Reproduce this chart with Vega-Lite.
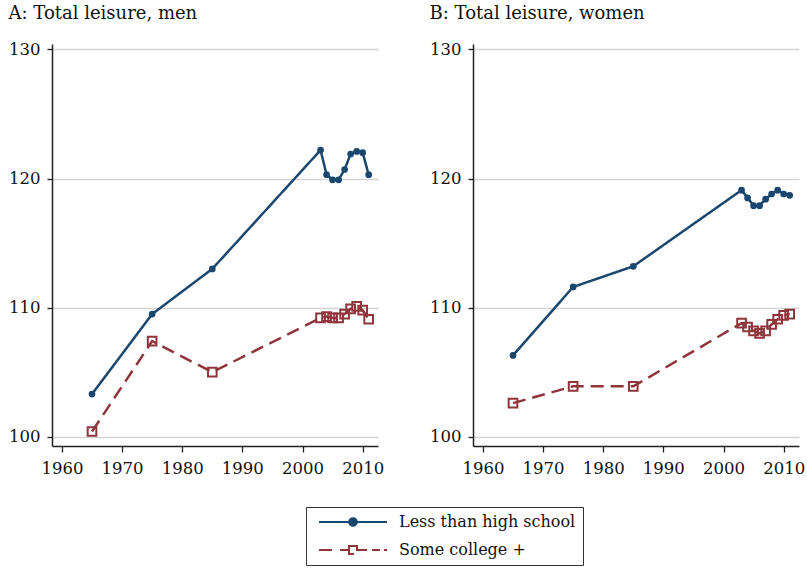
{
  "$schema": "https://vega.github.io/schema/vega-lite/v6.json",
  "padding": {"left": 8, "top": 5, "right": 0, "bottom": 0},
  "background": "white",
  "datasets": {
    "leisure": [
      {"panel": "men", "group": "Less than high school", "year": 1965, "value": 103.3},
      {"panel": "men", "group": "Less than high school", "year": 1975, "value": 109.5},
      {"panel": "men", "group": "Less than high school", "year": 1985, "value": 113.0},
      {"panel": "men", "group": "Less than high school", "year": 2003, "value": 122.2},
      {"panel": "men", "group": "Less than high school", "year": 2004, "value": 120.3},
      {"panel": "men", "group": "Less than high school", "year": 2005, "value": 119.9},
      {"panel": "men", "group": "Less than high school", "year": 2006, "value": 119.9},
      {"panel": "men", "group": "Less than high school", "year": 2007, "value": 120.7},
      {"panel": "men", "group": "Less than high school", "year": 2008, "value": 121.9},
      {"panel": "men", "group": "Less than high school", "year": 2009, "value": 122.1},
      {"panel": "men", "group": "Less than high school", "year": 2010, "value": 122.0},
      {"panel": "men", "group": "Less than high school", "year": 2011, "value": 120.3},
      {"panel": "men", "group": "Some college +", "year": 1965, "value": 100.4},
      {"panel": "men", "group": "Some college +", "year": 1975, "value": 107.4},
      {"panel": "men", "group": "Some college +", "year": 1985, "value": 105.0},
      {"panel": "men", "group": "Some college +", "year": 2003, "value": 109.2},
      {"panel": "men", "group": "Some college +", "year": 2004, "value": 109.3},
      {"panel": "men", "group": "Some college +", "year": 2005, "value": 109.2},
      {"panel": "men", "group": "Some college +", "year": 2006, "value": 109.2},
      {"panel": "men", "group": "Some college +", "year": 2007, "value": 109.5},
      {"panel": "men", "group": "Some college +", "year": 2008, "value": 109.9},
      {"panel": "men", "group": "Some college +", "year": 2009, "value": 110.1},
      {"panel": "men", "group": "Some college +", "year": 2010, "value": 109.8},
      {"panel": "men", "group": "Some college +", "year": 2011, "value": 109.1},
      {"panel": "women", "group": "Less than high school", "year": 1965, "value": 106.3},
      {"panel": "women", "group": "Less than high school", "year": 1975, "value": 111.6},
      {"panel": "women", "group": "Less than high school", "year": 1985, "value": 113.2},
      {"panel": "women", "group": "Less than high school", "year": 2003, "value": 119.1},
      {"panel": "women", "group": "Less than high school", "year": 2004, "value": 118.5},
      {"panel": "women", "group": "Less than high school", "year": 2005, "value": 117.9},
      {"panel": "women", "group": "Less than high school", "year": 2006, "value": 117.9},
      {"panel": "women", "group": "Less than high school", "year": 2007, "value": 118.4},
      {"panel": "women", "group": "Less than high school", "year": 2008, "value": 118.8},
      {"panel": "women", "group": "Less than high school", "year": 2009, "value": 119.1},
      {"panel": "women", "group": "Less than high school", "year": 2010, "value": 118.8},
      {"panel": "women", "group": "Less than high school", "year": 2011, "value": 118.7},
      {"panel": "women", "group": "Some college +", "year": 1965, "value": 102.6},
      {"panel": "women", "group": "Some college +", "year": 1975, "value": 103.9},
      {"panel": "women", "group": "Some college +", "year": 1985, "value": 103.9},
      {"panel": "women", "group": "Some college +", "year": 2003, "value": 108.8},
      {"panel": "women", "group": "Some college +", "year": 2004, "value": 108.5},
      {"panel": "women", "group": "Some college +", "year": 2005, "value": 108.2},
      {"panel": "women", "group": "Some college +", "year": 2006, "value": 108.0},
      {"panel": "women", "group": "Some college +", "year": 2007, "value": 108.2},
      {"panel": "women", "group": "Some college +", "year": 2008, "value": 108.7},
      {"panel": "women", "group": "Some college +", "year": 2009, "value": 109.1},
      {"panel": "women", "group": "Some college +", "year": 2010, "value": 109.4},
      {"panel": "women", "group": "Some college +", "year": 2011, "value": 109.5}
    ]
  },
  "config": {
    "font": "DejaVu Serif",
    "view": {"stroke": null},
    "axis": {
      "labelFont": "DejaVu Serif", "labelFontSize": 16.5, "labelColor": "#111",
      "domainColor": "#222", "domainWidth": 1.5, "tickColor": "#222", "tickWidth": 1.3,
      "tickSize": 5, "gridColor": "#d4d4d4", "gridWidth": 1.3, "title": null,
      "labelFlush": false, "labelOverlap": false
    },
    "title": {"font": "DejaVu Serif", "fontSize": 18, "fontWeight": "normal", "anchor": "start", "frame": "bounds", "color": "#111", "offset": 18}
  },
  "bounds": "flush",
  "spacing": 95,
  "hconcat": [
    {
      "title": "A: Total leisure, men",
      "width": 326, "height": 402,
      "data": {"name": "leisure"},
      "transform": [{"filter": "datum.panel === 'men'"}],
      "encoding": {
        "x": {"field": "year", "type": "quantitative", "scale": {"domain": [1958.35, 2012.55], "nice": false, "zero": false},
              "axis": {"values": [1960, 1970, 1980, 1990, 2000, 2010], "format": "d", "grid": false, "tickSize": 6, "labelPadding": 8}},
        "y": {"field": "value", "type": "quantitative", "scale": {"domain": [99.28, 130.42], "nice": false, "zero": false},
              "axis": {"values": [100, 110, 120, 130], "grid": true, "labelPadding": 7}},
        "color": {"field": "group", "type": "nominal",
                  "scale": {"domain": ["Less than high school", "Some college +"], "range": ["#1a476f", "#90353b"]},
                  "legend": {
                    "orient": "none", "legendX": 254, "legendY": 463, "title": null, "direction": "vertical",
                    "symbolSize": 100, "symbolStrokeWidth": 2, "symbolOffset": 32, "labelOffset": 38,
                    "labelFont": "DejaVu Serif", "labelFontSize": 16, "labelColor": "#111", "labelLimit": 400,
                    "padding": 7, "rowPadding": 12, "strokeColor": "#333",
                    "encoding": {
                      "symbols": {
                        "shape": {"value": {"expr": "datum.value === 'Less than high school' ? 'M-6.8,0L6.8,0M0.75,0A0.75,0.75,0,1,1,-0.75,0A0.75,0.75,0,1,1,0.75,0Z' : 'M-6.8,0H-4M-2.6,0H-0.8M-0.8,-0.8H0.8V0.8H-0.8ZM-0.8,-0.8V0.8H0.8V-0.8ZM0.8,0H2.8M3.8,0H5.4M6.2,0H6.8'"}}
                      }
                    }
                  }}
      },
      "layer": [
        {"mark": {"type": "line", "strokeWidth": 2.5},
         "encoding": {"strokeDash": {"field": "group", "type": "nominal", "scale": {"domain": ["Less than high school", "Some college +"], "range": [[1, 0], [13, 7]]}, "legend": null}}},
        {"transform": [{"filter": "datum.group === 'Less than high school'"}],
         "mark": {"type": "point", "shape": "circle", "filled": true, "size": 45, "opacity": 1}},
        {"transform": [{"filter": "datum.group === 'Some college +'"}],
         "mark": {"type": "point", "shape": "square", "filled": false, "size": 75, "strokeWidth": 2, "opacity": 1}}
      ]
    },
    {
      "title": "B: Total leisure, women",
      "width": 326, "height": 402,
      "data": {"name": "leisure"},
      "transform": [{"filter": "datum.panel === 'women'"}],
      "encoding": {
        "x": {"field": "year", "type": "quantitative", "scale": {"domain": [1958.35, 2012.55], "nice": false, "zero": false},
              "axis": {"values": [1960, 1970, 1980, 1990, 2000, 2010], "format": "d", "grid": false, "tickSize": 6, "labelPadding": 8}},
        "y": {"field": "value", "type": "quantitative", "scale": {"domain": [99.28, 130.42], "nice": false, "zero": false},
              "axis": {"values": [100, 110, 120, 130], "grid": true, "labelPadding": 7}},
        "color": {"field": "group", "type": "nominal",
                  "scale": {"domain": ["Less than high school", "Some college +"], "range": ["#1a476f", "#90353b"]},
                  "legend": {
                    "orient": "none", "legendX": 254, "legendY": 463, "title": null, "direction": "vertical",
                    "symbolSize": 100, "symbolStrokeWidth": 2, "symbolOffset": 32, "labelOffset": 38,
                    "labelFont": "DejaVu Serif", "labelFontSize": 16, "labelColor": "#111", "labelLimit": 400,
                    "padding": 7, "rowPadding": 12, "strokeColor": "#333",
                    "encoding": {
                      "symbols": {
                        "shape": {"value": {"expr": "datum.value === 'Less than high school' ? 'M-6.8,0L6.8,0M0.75,0A0.75,0.75,0,1,1,-0.75,0A0.75,0.75,0,1,1,0.75,0Z' : 'M-6.8,0H-4M-2.6,0H-0.8M-0.8,-0.8H0.8V0.8H-0.8ZM-0.8,-0.8V0.8H0.8V-0.8ZM0.8,0H2.8M3.8,0H5.4M6.2,0H6.8'"}}
                      }
                    }
                  }}
      },
      "layer": [
        {"mark": {"type": "line", "strokeWidth": 2.5},
         "encoding": {"strokeDash": {"field": "group", "type": "nominal", "scale": {"domain": ["Less than high school", "Some college +"], "range": [[1, 0], [13, 7]]}, "legend": null}}},
        {"transform": [{"filter": "datum.group === 'Less than high school'"}],
         "mark": {"type": "point", "shape": "circle", "filled": true, "size": 45, "opacity": 1}},
        {"transform": [{"filter": "datum.group === 'Some college +'"}],
         "mark": {"type": "point", "shape": "square", "filled": false, "size": 75, "strokeWidth": 2, "opacity": 1}}
      ]
    }
  ]
}
